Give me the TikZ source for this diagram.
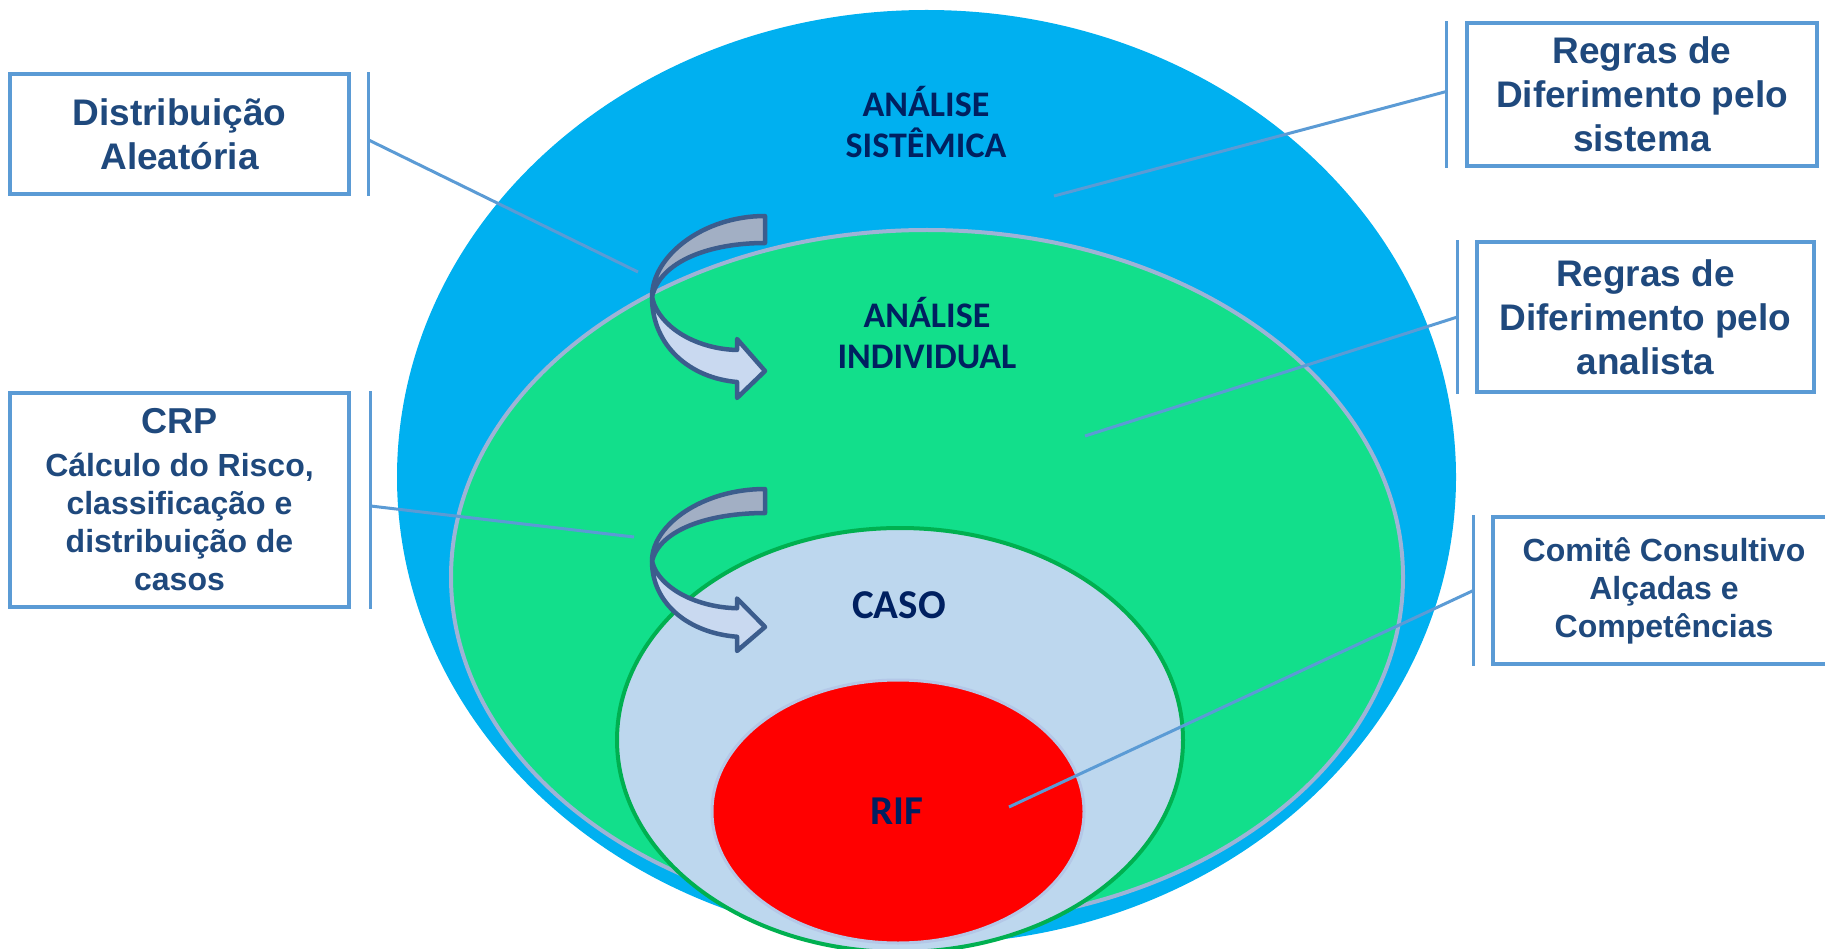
\documentclass[tikz,border=0pt]{standalone}
\usepackage{fontspec}
\setmainfont{Liberation Sans}
\newfontfamily\ringfont{Carlito}
\usetikzlibrary{shapes}
\usetikzlibrary{positioning}
\definecolor{sistblue}{HTML}{00B0F0}
\definecolor{indgreen}{HTML}{12DF8B}
\definecolor{indrim}{HTML}{9EB3D6}
\definecolor{casofill}{HTML}{BDD7EE}
\definecolor{casorim}{HTML}{00B050}
\definecolor{rifrim}{HTML}{B4C7E7}
\definecolor{ringnavy}{HTML}{002060}
\definecolor{boxblue}{HTML}{5B9BD5}
\definecolor{boxtext}{HTML}{1F497D}
\definecolor{arrowrim}{HTML}{3C5D8D}
\definecolor{arrowback}{HTML}{A2AFC4}
\definecolor{arrowfront}{HTML}{C9D9F0}
\tikzstyle{zone} = [ellipse, inner sep=0pt]
\tikzstyle{ring label} = [text=ringnavy, align=center,
    font=\ringfont\bfseries\fontsize{36}{41}\selectfont]
\tikzstyle{note} = [rectangle, draw=boxblue, line width=3.3pt, fill=white,
    text=boxtext, align=center, inner sep=0pt,
    font=\bfseries\fontsize{37}{44}\selectfont]
\tikzstyle{bar} = [draw=boxblue, line width=3pt]
\tikzstyle{callout} = [draw=boxblue, line width=3pt]
\tikzstyle{turn back} = [draw=arrowrim, line width=4.5pt, line join=round,
    fill=arrowback]
\tikzstyle{turn front} = [draw=arrowrim, line width=4.5pt, line join=round,
    fill=arrowfront]
\begin{document}
\begin{tikzpicture}[x=1pt, y=-1pt]
  \useasboundingbox (0,0) rectangle (1825,949);
  % Place rings
  \node [zone, fill=sistblue, minimum width=1059pt, minimum height=934pt] (sistemica) at (926.5,477) {};
  \node [zone, fill=indgreen, draw=indrim, line width=4pt,
         minimum width=952pt, minimum height=694pt] (individual) at (927,577) {};
  \node [zone, fill=casofill, draw=casorim, line width=4pt,
         minimum width=566pt, minimum height=424pt] (caso) at (900,740) {};
  \node [zone, fill=red, draw=rifrim, line width=3pt,
         minimum width=372pt, minimum height=263pt] (rif) at (898,811.5) {};

  \node [ring label] (l-sist) at (926,122) {ANÁLISE\\SISTÊMICA};
  \node [ring label] (l-ind) at (927,333) {ANÁLISE\\INDIVIDUAL};
  \node [ring label, font=\ringfont\bfseries\fontsize{41}{46}\selectfont] (l-caso) at (899,605) {CASO};
  \node [ring label, font=\ringfont\bfseries\fontsize{41}{46}\selectfont] (l-rif) at (897,811) {RIF};

  % Place notes
  \node [note, minimum width=339pt, minimum height=120pt] (distrib) at (179.5,134) {Distribuição\\Aleatória};
  \node [note, minimum width=339pt, minimum height=214pt,
         font=\bfseries\fontsize{32}{38}\selectfont] (crp) at (179.5,500)
    {{\fontsize{36}{43}\selectfont CRP}\\[5pt]
     Cálculo do Risco,\\
     classificação e\\
     distribuição de\\
     casos};
  \node [note, minimum width=350pt, minimum height=143pt] (regsis) at (1642,94.5) {Regras de\\Diferimento pelo\\sistema};
  \node [note, minimum width=337pt, minimum height=150pt] (regana) at (1645.5,317) {Regras de\\Diferimento pelo\\analista};
  \node [note, minimum width=342pt, minimum height=147pt,
         font=\bfseries\fontsize{32}{38}\selectfont] (comite) at (1664,590.5)
    {Comitê Consultivo\\Alçadas e\\Competências};

  % Accent bars
  \path [bar] ([xshift=18pt]distrib.north east) -- ([xshift=18pt]distrib.south east);
  \path [bar] ([xshift=20pt]crp.north east) -- ([xshift=20pt]crp.south east);
  \path [bar] ([xshift=-19pt]regsis.north west) -- ([xshift=-19pt]regsis.south west);
  \path [bar] ([xshift=-18pt]regana.north west) -- ([xshift=-18pt]regana.south west);
  \path [bar] ([xshift=-18pt]comite.north west) -- ([xshift=-18pt]comite.south west);

  % Callouts
  \coordinate (d-end) at (638,272);
  \coordinate (c-end) at (634,537);
  \coordinate (s-end) at (1054,196);
  \coordinate (a-end) at (1085,436);
  \coordinate (k-end) at (1009,807);
  \path [callout] ([xshift=18pt,yshift=-6pt]distrib.east) -- (d-end);
  \path [callout] ([xshift=20pt,yshift=-6pt]crp.east) -- (c-end);
  \path [callout] ([xshift=-19pt,yshift=3pt]regsis.west) -- (s-end);
  \path [callout] ([xshift=-18pt]regana.west) -- (a-end);
  \path [callout] ([xshift=-18pt]comite.west) -- (k-end);

  % Curved arrows
  \foreach \ay/\ys in {216/1, 489/0.89} {
    \begin{scope}[shift={(765,\ay)}, yscale=\ys]
      \path [turn back] (0,0) -- (0,27) .. controls (-55,27) and (-105,45) .. (-113,81)
        .. controls (-113,40) and (-62,0) .. (0,0) -- cycle;
      \path [turn front] (-113,81) .. controls (-113,130) and (-75,162) .. (-28,166)
        -- (-28,182) -- (0,155) -- (-28,123) -- (-28,134)
        .. controls (-65,133) and (-100,115) .. (-111,88) -- cycle;
    \end{scope}
  }
\end{tikzpicture}
\end{document}
